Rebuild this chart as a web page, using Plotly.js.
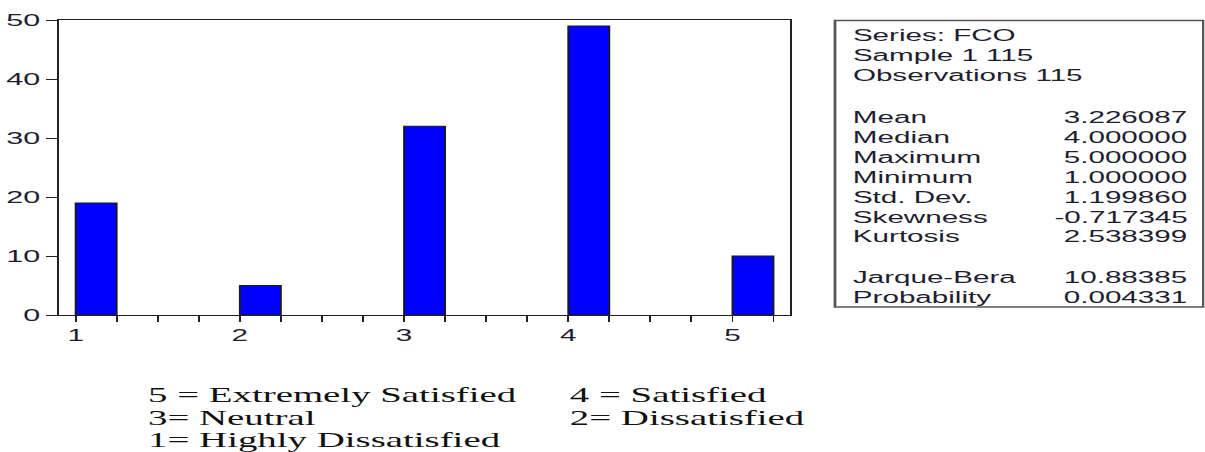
<!DOCTYPE html>
<html>
<head>
<meta charset="utf-8">
<script src="https://cdn.plot.ly/plotly-3.0.1.min.js"></script>
<style>
  html, body { margin: 0; padding: 0; background: #ffffff; }
  #wrap { width: 1205px; height: 452px; overflow: hidden; }
  #chart { height: 452px; transform-origin: 0 0; }
</style>
</head>
<body>
<div id="wrap"><div id="chart"></div></div>
<script>
// Histogram of FCO responses (1-5 satisfaction scale)
const categories = [1, 2, 3, 4, 5];
const counts = [19, 5, 32, 49, 10];

// Descriptive statistics panel
const headerLines = ['Series: FCO', 'Sample 1 115', 'Observations 115'];
const statNames = ['Mean', 'Median', 'Maximum', 'Minimum', 'Std. Dev.', 'Skewness', 'Kurtosis',
                   'Jarque-Bera', 'Probability'];
const statValues = ['3.226087', '4.000000', '5.000000', '1.000000', '1.199860', '-0.717345', '2.538399',
                    '10.88385', '0.004331'];

// Scale key below the chart
const keyLeft = ['5 = Extremely Satisfied', '3= Neutral', '1= Highly Dissatisfied'];
const keyRight = ['4 = Satisfied', '2= Dissatisfied'];

// The page is drawn narrow and stretched horizontally
const SX = 1.85;
const W = 1205 / SX;
const chartDiv = document.getElementById('chart');
chartDiv.style.width = W + 'px';
chartDiv.style.transform = 'scaleX(' + SX + ')';

// Plot frame in page pixels
const FL = 60, FR = 790, FT = 20, FB = 315;
const px = x => (x - FL) / (FR - FL);
const py = y => (FB - y) / (FB - FT);

const textCol = '#1e1e30';
const sans = 'Liberation Sans, Arial, sans-serif';
const serif = 'Liberation Serif, Times New Roman, serif';

const annotations = [];
function note(text, x, y, anchor, font) {
  annotations.push({
    text: text, xref: 'paper', yref: 'paper', x: px(x), y: py(y),
    xanchor: anchor, yanchor: 'middle', showarrow: false, font: font
  });
}
const statFont = { family: sans, size: 16, color: textCol };
headerLines.forEach((t, i) => note(t, 850, 35.5 + 20 * i, 'left', statFont));
const statY = [117, 137, 157, 177, 197, 217, 237, 277.5, 297.5];
statNames.forEach((t, i) => note(t, 850, statY[i], 'left', statFont));
statValues.forEach((t, i) => note(t, 1191, statY[i], 'right', statFont));

const keyFont = { family: serif, size: 21, color: '#111111' };
const keyY = [395, 417.5, 440];
keyLeft.forEach((t, i) => note(t, 145, keyY[i], 'left', keyFont));
keyRight.forEach((t, i) => note(t, 567, keyY[i], 'left', keyFont));

const trace = {
  type: 'bar',
  x: categories,
  y: counts,
  width: 0.25,
  offset: 0,
  marker: { color: '#0000ff', line: { color: '#1a1a1a', width: 1 } },
  hoverinfo: 'skip'
};

const layout = {
  width: W,
  height: 452,
  margin: { l: FL / SX, r: W - FR / SX, t: FT, b: 452 - FB, pad: 0 },
  paper_bgcolor: '#ffffff',
  plot_bgcolor: '#ffffff',
  showlegend: false,
  bargap: 0,
  xaxis: {
    range: [0.9, 5.35],
    tickvals: categories,
    ticktext: categories.map(String),
    ticks: 'outside', ticklen: 6, tickwidth: 1, tickcolor: '#222222',
    minor: { dtick: 0.25, tick0: 1, ticks: 'outside', ticklen: 6, tickwidth: 1, tickcolor: '#222222', showgrid: false },
    showgrid: false, zeroline: false,
    showline: true, linecolor: '#222222', linewidth: 1, mirror: true,
    tickfont: { family: sans, size: 16, color: textCol },
    fixedrange: true
  },
  yaxis: {
    range: [0, 50],
    dtick: 10,
    ticks: 'outside', ticklen: 6, tickwidth: 1, tickcolor: '#222222',
    showgrid: false, zeroline: false,
    showline: true, linecolor: '#222222', linewidth: 1, mirror: true,
    tickfont: { family: sans, size: 16.5, color: textCol },
    fixedrange: true
  },
  shapes: [{
    type: 'rect', xref: 'paper', yref: 'paper',
    x0: px(835), x1: px(1203), y0: py(307), y1: py(20.5),
    line: { color: '#555555', width: 1.5 }, fillcolor: 'rgba(0,0,0,0)'
  }],
  annotations: annotations
};

Plotly.newPlot(chartDiv, [trace], layout, { staticPlot: true, displayModeBar: false });
</script>
</body>
</html>
